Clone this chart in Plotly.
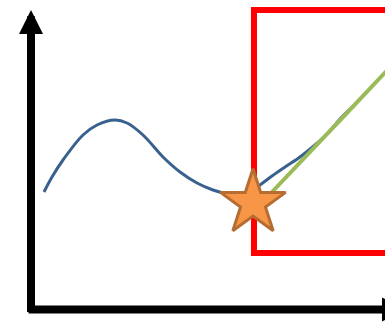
import plotly.graph_objects as go

W, H = 385, 322

# Curve sampled along the diagram (x to the right, y upward)
curve_x = [44, 52, 63, 83, 97, 115, 127, 143, 163, 180, 197, 213, 223, 236, 248, 260, 272, 285, 300, 315, 328, 340, 350]
curve_y = [130, 145, 162, 187, 197, 202, 199, 187, 165, 150, 139, 132, 129, 126, 129, 137, 146, 155, 165, 177, 189, 203, 213]

# Tangent line leaving the marked point
tangent_x = [262, 273, 345, 385, 395]
tangent_y = [119, 131, 207, 249.5, 260]

# Marked point (star)
point_x = [253]
point_y = [119]

# Highlight box around the region right of the point
box_x = [254, 420]
box_y = [69, 312]

# Axis arrows: origin and arrow tips
axis_origin = (31, 12.5)
axis_top = 312
axis_right = 406

fig = go.Figure()

fig.add_trace(go.Scatter(
    x=curve_x, y=curve_y, mode="lines",
    line=dict(color="#38618F", width=3, shape="spline", smoothing=1.0),
    hoverinfo="skip", showlegend=False,
))
fig.add_trace(go.Scatter(
    x=tangent_x, y=tangent_y, mode="lines",
    line=dict(color="#9BBB59", width=4),
    hoverinfo="skip", showlegend=False,
))
fig.add_trace(go.Scatter(
    x=point_x, y=point_y, mode="markers",
    marker=dict(symbol="star", size=49, color="#F79646",
                line=dict(color="#B66D31", width=3)),
    hoverinfo="skip", showlegend=False,
))

fig.add_shape(
    type="rect", xref="x", yref="y",
    x0=box_x[0], x1=box_x[1], y0=box_y[0], y1=box_y[1],
    line=dict(color="#FF0000", width=6), layer="below",
)

# Vertical axis arrow
fig.add_annotation(
    x=axis_origin[0], y=axis_top, ax=axis_origin[0], ay=axis_origin[1] - 4,
    xref="x", yref="y", axref="x", ayref="y", text="",
    showarrow=True, arrowhead=2, arrowsize=0.6, arrowwidth=8, arrowcolor="#000000",
)
# Horizontal axis arrow
fig.add_annotation(
    x=axis_right, y=axis_origin[1], ax=axis_origin[0] - 4, ay=axis_origin[1],
    xref="x", yref="y", axref="x", ayref="y", text="",
    showarrow=True, arrowhead=2, arrowsize=0.6, arrowwidth=8, arrowcolor="#000000",
)

fig.update_layout(
    width=W, height=H,
    margin=dict(l=0, r=0, t=0, b=0),
    paper_bgcolor="#FFFFFF", plot_bgcolor="#FFFFFF",
    xaxis=dict(range=[0, W], visible=False, fixedrange=True),
    yaxis=dict(range=[0, H], visible=False, fixedrange=True),
    showlegend=False,
)

fig.write_html("out.html", config={"displayModeBar": False})
